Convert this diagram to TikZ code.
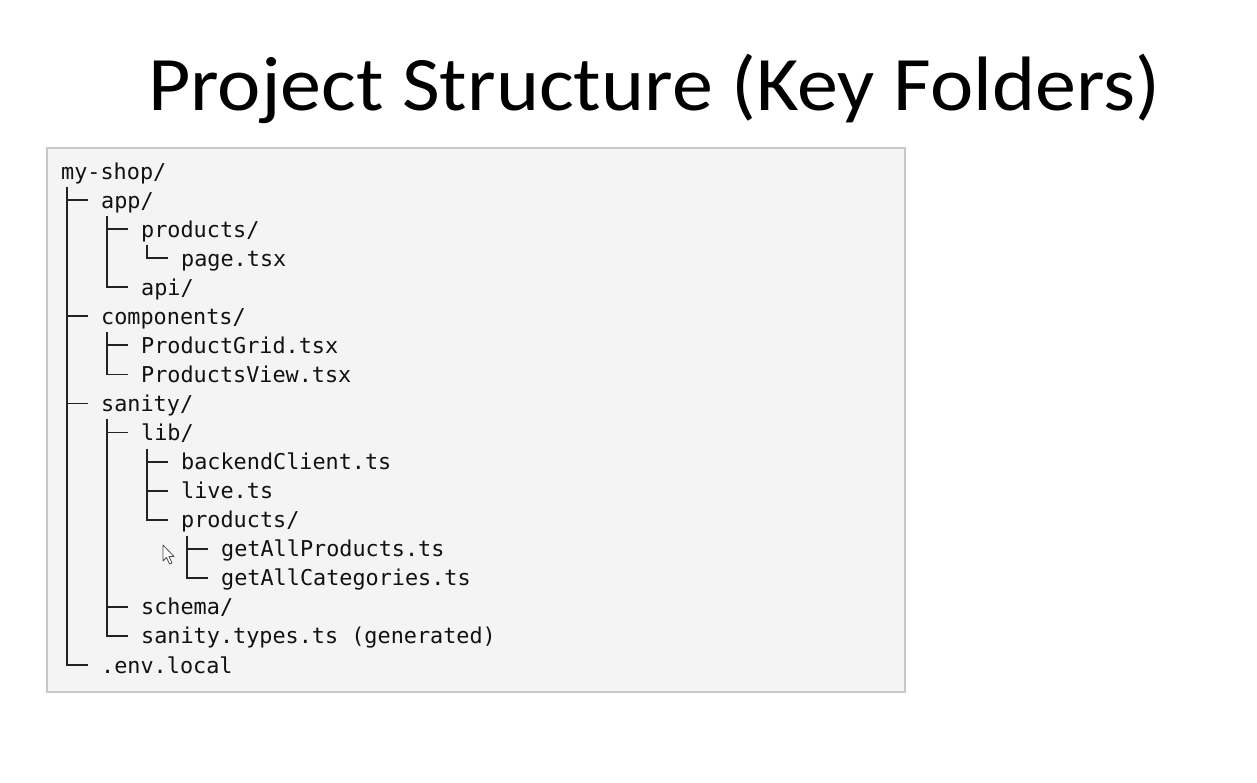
\documentclass[tikz,border=0pt]{standalone}
\usepackage{fontspec}
\setmainfont{Carlito}
\newfontfamily\codefont{DejaVu Sans Mono}
\usetikzlibrary{calc}
\definecolor{boxfill}{HTML}{F4F4F4}
\definecolor{boxline}{HTML}{C8C8C8}
\definecolor{treeline}{HTML}{222222}
\definecolor{codetext}{HTML}{111111}
\begin{document}
\begin{tikzpicture}[x=1bp,y=-1bp,
  entry/.style={anchor=base west,inner sep=0pt,text=codetext,font=\codefont\fontsize{21.9}{26}\selectfont},
  branch/.style={draw=treeline,line width=1.8bp},
  titletext/.style={anchor=base west,inner sep=0pt,text=black}]
\useasboundingbox (0,0) rectangle (1257,783);
\fill[white] (0,0) rectangle (1257,783);
\node[titletext] (title) at (148,111) {\scalebox{1}[0.94]{\resizebox{1012bp}{!}{\fontsize{96}{110}\selectfont Project Structure (Key Folders)}}};
\draw[fill=boxfill,draw=boxline,line width=2bp] (47,148) rectangle (905,692);
% rows
\node[entry] (root) at (61,{179+29.06*0}) {my-shop/};
\node[entry] (app) at (101,{179+29.06*1}) {app/};
\node[entry] (appprod) at (141,{179+29.06*2}) {products/};
\node[entry] (page) at (181,{179+29.06*3}) {page.tsx};
\node[entry] (api) at (141,{179+29.06*4}) {api/};
\node[entry] (comp) at (101,{179+29.06*5}) {components/};
\node[entry] (grid) at (141,{179+29.06*6}) {ProductGrid.tsx};
\node[entry] (view) at (141,{179+29.06*7}) {ProductsView.tsx};
\node[entry] (sanity) at (101,{179+29.06*8}) {sanity/};
\node[entry] (lib) at (141,{179+29.06*9}) {lib/};
\node[entry] (backend) at (181,{179+29.06*10}) {backendClient.ts};
\node[entry] (live) at (181,{179+29.06*11}) {live.ts};
\node[entry] (libprod) at (181,{179+29.06*12}) {products/};
\node[entry] (getprod) at (221,{179+29.06*13}) {getAllProducts.ts};
\node[entry] (getcat) at (221,{179+29.06*14}) {getAllCategories.ts};
\node[entry] (schema) at (141,{179+29.06*15}) {schema/};
\node[entry] (types) at (141,{179+29.06*16}) {sanity.types.ts (generated)};
\node[entry] (env) at (101,{179+29.06*17}) {.env.local};
% connectors: vertical from parent to last child, tick to each child
\foreach \p/\last/\others in {root/env/{app,comp,sanity},app/api/{appprod},appprod/page/{},comp/view/{grid},sanity/types/{lib,schema},lib/libprod/{backend,live},libprod/getcat/{getprod}}{
  \draw[branch] ($(\p.base west)+(6,8)$) |- ($(\last.base west)+(-13,-8)$);
  \foreach \c in \others {
    \draw[branch] ($(\c.base west)+(-34,-8)$) -- ($(\c.base west)+(-13,-8)$);
  }
}
% mouse pointer
\draw[fill=white,draw=black!70,line width=0.8bp,line join=round]
  (163,545) -- (163,561) -- (166.5,557.5) -- (169.5,564) -- (172,563) -- (169,556.5) -- (174,556.5) -- cycle;
\end{tikzpicture}
\end{document}
